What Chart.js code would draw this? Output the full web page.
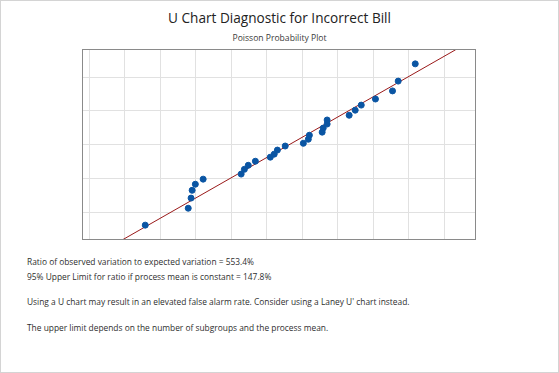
<!DOCTYPE html>
<html>
<head>
<meta charset="utf-8">
<script src="https://cdn.jsdelivr.net/npm/chart.js@4"></script>
<style>
  html, body { margin: 0; padding: 0; background: #fff; }
  #frame {
    position: relative; width: 559px; height: 373px; box-sizing: border-box;
    border: 1px solid #d4d4d4; font-family: "Open Sans", "Noto Sans", sans-serif; color: #333;
  }
  #plotBox { position: absolute; left: -1px; top: -1px; width: 559px; height: 250px; }
  .title { position: absolute; left: 0; width: 557px; text-align: center; white-space: nowrap; }
  .title span { display: inline-block; }
  #title { top: 9px; font-size: 14px; color: #222; line-height: 1.2; }
  #subtitle { top: 32px; font-size: 9px; color: #3a3a3a; line-height: 1.2; }
  .note { position: absolute; left: 26px; font-size: 8.5px; white-space: nowrap; color: #2e2e2e; }
</style>
</head>
<body>
<div id="frame">
  <div id="title" class="title"><span>U Chart Diagnostic for Incorrect Bill</span></div>
  <div id="subtitle" class="title"><span>Poisson Probability Plot</span></div>
  <div id="plotBox"><canvas id="probPlot"></canvas></div>
  <div class="note" style="top:255px">Ratio of observed variation to expected variation = 553.4%</div>
  <div class="note" style="top:270px">95% Upper Limit for ratio if process mean is constant = 147.8%</div>
  <div class="note" id="longNote" style="top:295px">Using a U chart may result in an elevated false alarm rate. Consider using a Laney U' chart instead.</div>
  <div class="note" style="top:321px">The upper limit depends on the number of subgroups and the process mean.</div>
</div>
<script>
// Datos (unidades relativas, sin etiquetas de ejes)
const observed = [1.58, 2.79, 2.87, 2.90, 2.99, 3.21, 4.28, 4.37, 4.48, 4.68, 5.10, 5.21, 5.30, 5.52,
                  6.03, 6.17, 6.20, 6.56, 6.59, 6.70, 6.70, 7.32, 7.49, 7.66, 8.06, 8.54, 8.70, 9.18];
const expected = [0.62, 1.12, 1.42, 1.65, 1.83, 1.98, 2.13, 2.27, 2.39, 2.51, 2.63, 2.72, 2.84, 2.96,
                  3.04, 3.16, 3.28, 3.37, 3.49, 3.61, 3.73, 3.87, 4.02, 4.17, 4.35, 4.59, 4.88, 5.39];
const fitX = [0.93, 10.32];
const fitY = [0.18, 5.81];
const xGrid = [0, 1, 2, 3, 4, 5, 6, 7, 8, 9, 10];
const yGrid = [1, 2, 3, 4, 5];

const COLORS = {
    points: '#0a55a3',
    fit: '#9a1a1a',
    grid: '#e1e1e1',
    border: '#8a8a8a'
};

// Ajustar tamaño de letra al ancho del original
function fitWidth(el, target) {
    const w = el.getBoundingClientRect().width;
    const size = parseFloat(getComputedStyle(el).fontSize);
    el.style.fontSize = (size * target / w).toFixed(2) + 'px';
    return size * target / w;
}
fitWidth(document.querySelector('#title span'), 223);
fitWidth(document.querySelector('#subtitle span'), 94);
const noteSize = fitWidth(document.getElementById('longNote'), 383);
document.querySelectorAll('.note').forEach(n => { n.style.fontSize = noteSize.toFixed(2) + 'px'; });

// Marco completo alrededor del área del gráfico
const frameBorder = {
    id: 'frameBorder',
    afterDraw(chart) {
        const { ctx, chartArea: a } = chart;
        ctx.save();
        ctx.strokeStyle = COLORS.border;
        ctx.lineWidth = 1;
        ctx.strokeRect(Math.round(a.left) + 0.5, Math.round(a.top) + 0.5,
                       Math.round(a.right - a.left) - 1, Math.round(a.bottom - a.top) - 1);
        ctx.restore();
    }
};

const scatterPts = observed.map((x, i) => ({ x: x, y: expected[i] }));
const fitPts = fitX.map((x, i) => ({ x: x, y: fitY[i] }));

new Chart(document.getElementById('probPlot').getContext('2d'), {
    type: 'scatter',
    data: {
        datasets: [
            {
                type: 'line',
                data: fitPts,
                borderColor: COLORS.fit,
                borderWidth: 1,
                pointRadius: 0,
                fill: false,
                order: 2
            },
            {
                data: scatterPts,
                backgroundColor: COLORS.points,
                borderColor: COLORS.points,
                pointRadius: 3,
                pointHoverRadius: 3,
                order: 1
            }
        ]
    },
    options: {
        responsive: true,
        maintainAspectRatio: false,
        animation: false,
        layout: { padding: { left: 82, right: 83, top: 49, bottom: 10 } },
        plugins: {
            legend: { display: false },
            tooltip: { enabled: false }
        },
        scales: {
            x: {
                type: 'linear',
                min: -0.2,
                max: 10.89,
                afterBuildTicks: s => { s.ticks = xGrid.map(v => ({ value: v })); },
                ticks: { display: false },
                grid: { color: COLORS.grid, drawTicks: false },
                border: { display: false }
            },
            y: {
                type: 'linear',
                min: 0.18,
                max: 5.83,
                afterBuildTicks: s => { s.ticks = yGrid.map(v => ({ value: v })); },
                ticks: { display: false },
                grid: { color: COLORS.grid, drawTicks: false },
                border: { display: false }
            }
        }
    },
    plugins: [frameBorder]
});
</script>
</body>
</html>
